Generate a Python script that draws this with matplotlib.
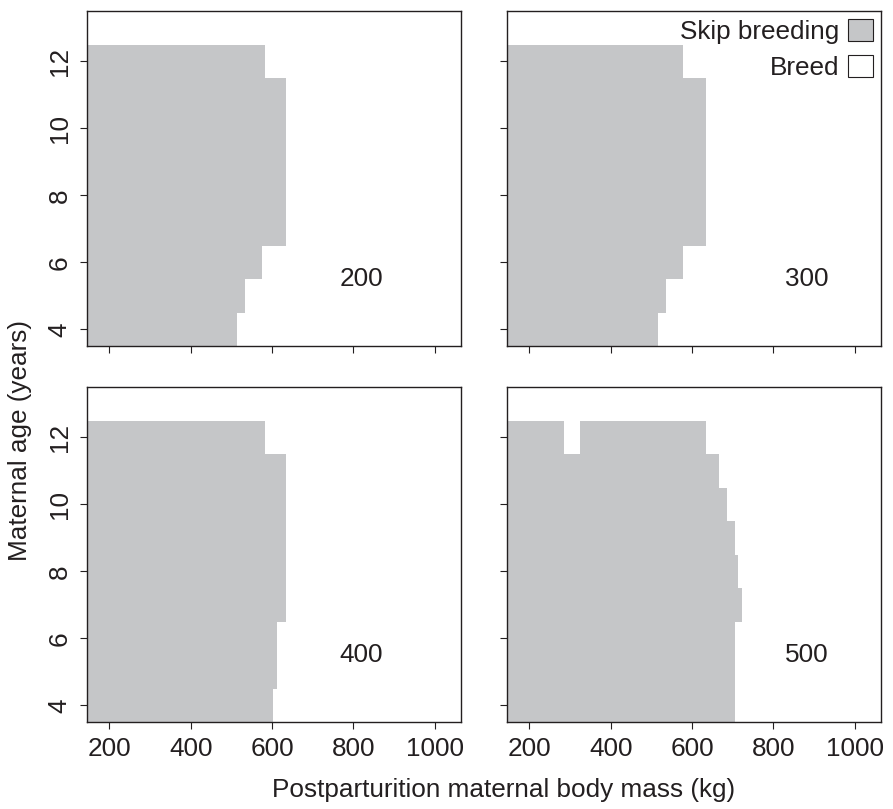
import matplotlib.pyplot as plt
from matplotlib.patches import Patch

plt.rcParams['font.family'] = ['Liberation Sans', 'DejaVu Sans']

# maternal age rows and the mass up to which skipping breeding is optimal
ages = [4, 5, 6, 7, 8, 9, 10, 11, 12]
skip_200 = [514, 534, 576, 635, 635, 635, 635, 635, 583]
skip_300 = [516, 536, 577, 634, 634, 634, 634, 634, 577]
skip_400 = [603, 613, 613, 635, 635, 635, 635, 635, 583]
skip_500 = [706, 706, 706, 723, 713, 706, 686, 666, 634]
# small band where breeding is chosen at age 12 in the 500 panel
gap_500 = {12: (285, 325)}

panel_labels = ['200', '300', '400', '500']
mass_min = 145
x_ticks = [200, 400, 600, 800, 1000]
y_ticks = [4, 6, 8, 10, 12]

gray = '#c5c6c8'
ink = '#231f20'
fs = 18.8

fig = plt.figure(figsize=(8.93, 8.09), dpi=100)
lefts = [0.0974, 0.5678]
bottoms = [0.5723, 0.1075]
w, h = 0.4188, 0.4141

data = [skip_200, skip_300, skip_400, skip_500]
gaps = [{}, {}, {}, gap_500]
text_x = [820, 882, 820, 882]

for i in range(4):
    r, c = divmod(i, 2)
    ax = fig.add_axes([lefts[c], bottoms[r], w, h])
    vals = data[i]
    ax.barh(ages, [v - mass_min for v in vals], left=mass_min, height=1.0,
            color=gray, linewidth=0)
    for age, (a, b) in gaps[i].items():
        ax.barh(age, b - a, left=a, height=1.0, color='white', linewidth=0)
    ax.set_xlim(mass_min, 1065)
    ax.set_ylim(3.5, 13.5)
    ax.set_xticks(x_ticks)
    ax.set_yticks(y_ticks)
    ax.tick_params(direction='out', length=5, width=0.8, colors=ink,
                   labelsize=fs, pad=6)
    for lbl in ax.get_yticklabels():
        lbl.set_rotation(90)
        lbl.set_va('center')
    if r == 0:
        ax.set_xticklabels([])
    if c == 1:
        ax.set_yticklabels([])
    for s in ax.spines.values():
        s.set_color(ink)
        s.set_linewidth(1.0)
    ax.text(text_x[i], 5.5, panel_labels[i], fontsize=fs, color=ink,
            ha='center', va='center')
    if i == 1:
        handles = [Patch(facecolor=gray, edgecolor=ink, linewidth=0.8),
                   Patch(facecolor='white', edgecolor=ink, linewidth=0.8)]
        leg = ax.legend(handles, ['Skip breeding', 'Breed'], loc='upper right',
                        frameon=False, markerfirst=False, fontsize=fs,
                        handlelength=0.95, handleheight=0.95, handletextpad=0.35,
                        borderaxespad=0.1, borderpad=0.2, labelspacing=0.4)
        for t in leg.get_texts():
            t.set_color(ink)

fig.text(0.022, 0.455, 'Maternal age (years)', rotation=90, fontsize=fs,
         color=ink, ha='center', va='center')
fig.text(0.564, 0.024, 'Postparturition maternal body mass (kg)', fontsize=fs,
         color=ink, ha='center', va='center')

fig.savefig('out.png', dpi=100)
